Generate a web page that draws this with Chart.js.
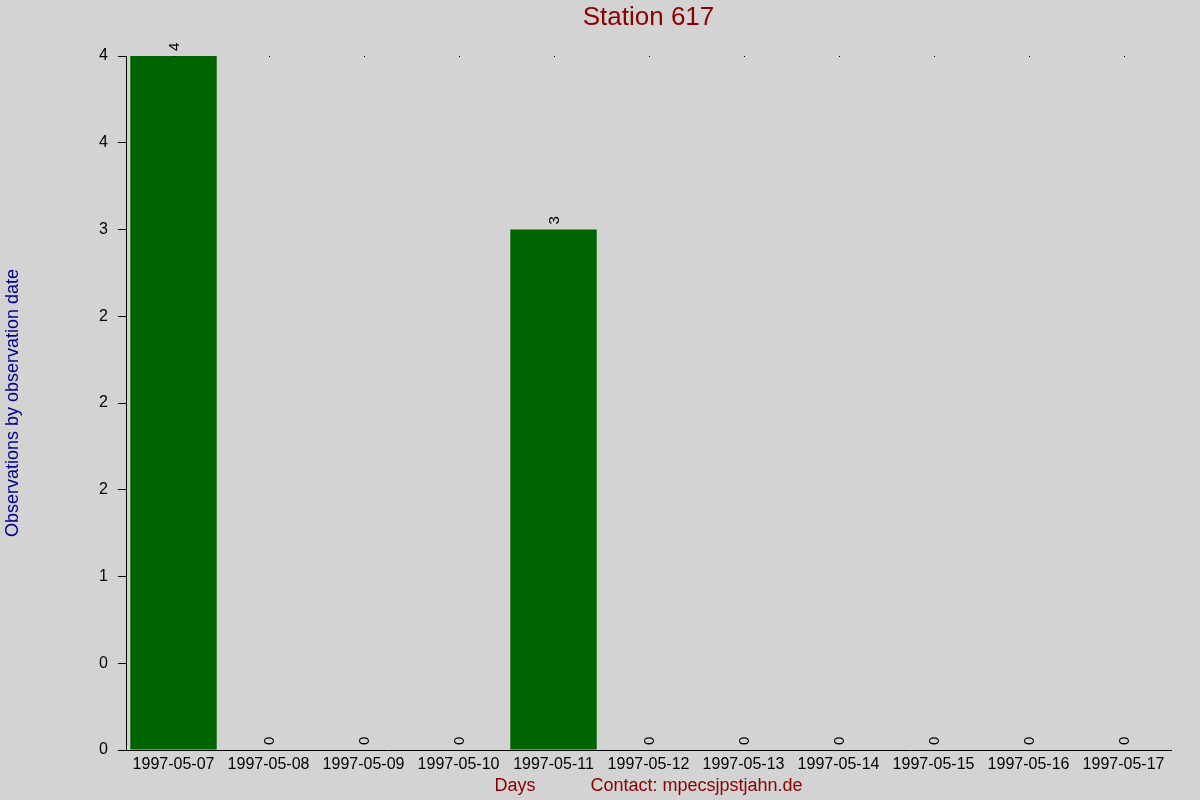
<!DOCTYPE html>
<html>
<head>
<meta charset="utf-8">
<script src="https://cdn.jsdelivr.net/npm/chart.js@4"></script>
<style>
html,body{margin:0;padding:0;background:#d3d3d3;}
#wrap{width:1200px;height:800px;}
</style>
</head>
<body>
<div id="wrap"><canvas id="c" width="1200" height="800"></canvas></div>
<script>
const categories = ["1997-05-07","1997-05-08","1997-05-09","1997-05-10","1997-05-11","1997-05-12","1997-05-13","1997-05-14","1997-05-15","1997-05-16","1997-05-17"];
const observations = [4,0,0,0,3,0,0,0,0,0,0];
const yTickValues = [0,0.5,1,1.5,2,2.5,3,3.5,4];
const yTickLabels = ["0","0","1","2","2","2","3","4","4"];
const chartTitle = "Station 617";
const yTitle = "Observations by observation date";
const xTitle = "Days           Contact: mpecsjpstjahn.de";

const FONT = "'Liberation Sans', Arial, sans-serif";

const bgPlugin = {
  id: 'bg',
  beforeDraw(chart) {
    const ctx = chart.ctx;
    ctx.save();
    ctx.fillStyle = '#d3d3d3';
    ctx.fillRect(0, 0, chart.width, chart.height);
    ctx.restore();
  }
};

const titlePlugin = {
  id: 'ctitle',
  afterDraw(chart) {
    const ctx = chart.ctx;
    const a = chart.chartArea;
    ctx.save();
    ctx.font = "26px " + FONT;
    ctx.fillStyle = '#8b0000';
    ctx.textAlign = 'center';
    ctx.textBaseline = 'middle';
    ctx.fillText(chartTitle, (a.left + a.right) / 2, 18);
    ctx.restore();
  }
};

const labelPlugin = {
  id: 'vlabels',
  afterDatasetsDraw(chart) {
    const ctx = chart.ctx;
    const meta = chart.getDatasetMeta(0);
    const top = chart.chartArea.top;
    ctx.save();
    ctx.fillStyle = '#000';
    meta.data.forEach(bar => {
      ctx.fillRect(Math.round(bar.x), top, 1, 1);
    });
    ctx.font = "15px " + FONT;
    ctx.fillStyle = '#000';
    ctx.textAlign = 'left';
    ctx.textBaseline = 'middle';
    meta.data.forEach((bar, i) => {
      ctx.save();
      ctx.translate(bar.x + 1, bar.y - 5);
      ctx.rotate(-Math.PI / 2);
      ctx.fillText(String(observations[i]), 0, 0);
      ctx.restore();
    });
    ctx.restore();
  }
};

new Chart(document.getElementById('c'), {
  type: 'bar',
  data: {
    labels: categories,
    datasets: [{
      data: observations,
      backgroundColor: '#006400',
      borderWidth: 0,
      categoryPercentage: 1.0,
      barPercentage: 0.91
    }]
  },
  options: {
    responsive: false,
    animation: false,
    devicePixelRatio: 1,
    layout: { padding: { left: 0, right: 29, top: 56, bottom: 0 } },
    plugins: {
      legend: { display: false },
      tooltip: { enabled: false },
      title: { display: false }
    },
    scales: {
      x: {
        grid: { display: false, drawTicks: false },
        border: { display: true, color: '#000', width: 1 },
        ticks: {
          color: '#000',
          font: { family: FONT, size: 16 },
          padding: 5,
          maxRotation: 0,
          autoSkip: false
        },
        title: {
          display: true,
          text: xTitle,
          color: '#8b0000',
          font: { family: FONT, size: 18 },
          padding: { top: 0, bottom: 3 }
        },
        afterFit(scale) { scale.height = 50; }
      },
      y: {
        min: 0,
        max: 4,
        afterBuildTicks(scale) {
          scale.ticks = yTickValues.map(v => ({ value: v }));
        },
        grid: {
          display: true,
          drawOnChartArea: false,
          drawTicks: true,
          tickLength: 8,
          color: '#000'
        },
        border: { display: true, color: '#000', width: 1 },
        ticks: {
          color: '#000',
          font: { family: FONT, size: 16 },
          padding: 10,
          callback(value, index) { return yTickLabels[index]; }
        },
        title: {
          display: true,
          text: yTitle,
          color: '#00008b',
          font: { family: FONT, size: 18 },
          padding: { top: 2, bottom: 0 }
        },
        afterFit(scale) { scale.width = 126; }
      }
    }
  },
  plugins: [bgPlugin, titlePlugin, labelPlugin]
});
</script>
</body>
</html>
